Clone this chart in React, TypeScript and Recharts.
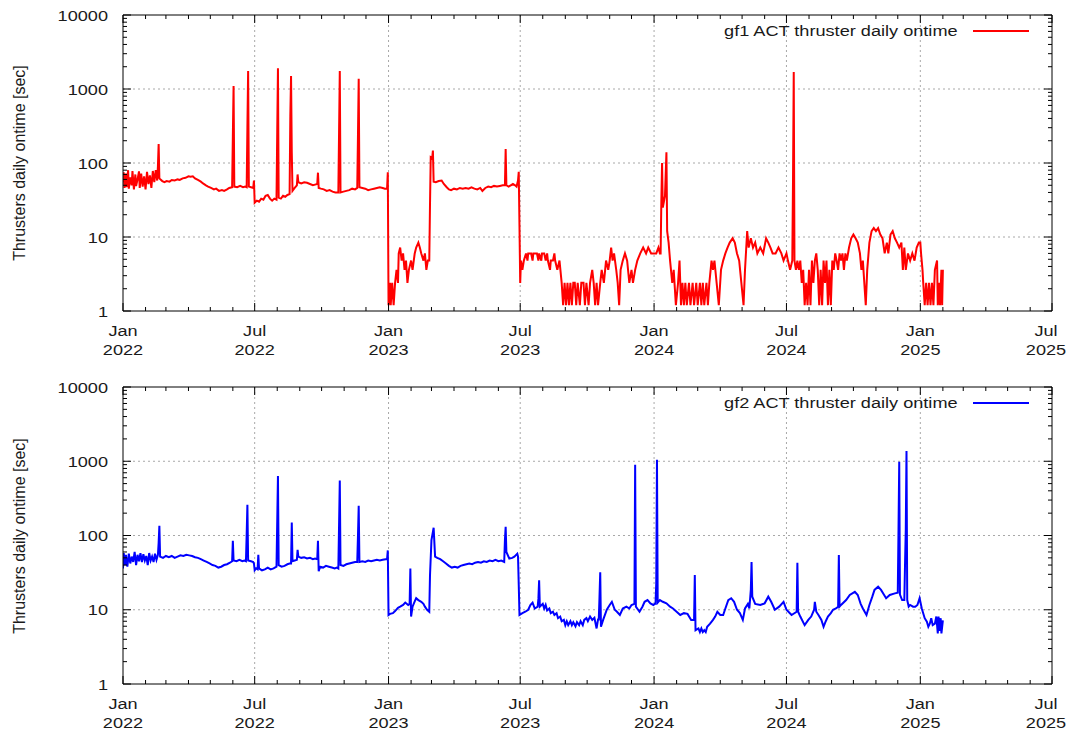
import React from 'react';
import { LineChart, Line, XAxis, YAxis, CartesianGrid } from 'recharts';

const FONT = '"Liberation Sans", Arial, sans-serif';
const STRETCH = 1.17;
const TEXT = '#1a1a1a';

const xStart = '2022-01-01';
const xEnd = '2025-07-01';
const majorMonths = ['Jan', 'Jul'];
const yDecades = [1, 10, 100, 1000, 10000];
const yLabel = 'Thrusters daily ontime [sec]';
const gf1Label = 'gf1 ACT thruster daily ontime';
const gf2Label = 'gf2 ACT thruster daily ontime';

// daily ontime [sec]
const gf1Ontime: [string, number][] = [
  ['2022-01-01', 55], ['2022-01-02', 75], ['2022-01-03', 46], ['2022-01-05', 72], ['2022-01-06', 47],
  ['2022-01-08', 80], ['2022-01-09', 45], ['2022-01-11', 64], ['2022-01-13', 50], ['2022-01-14', 78],
  ['2022-01-16', 44], ['2022-01-18', 70], ['2022-01-19', 49], ['2022-01-21', 60], ['2022-01-23', 77],
  ['2022-01-24', 46], ['2022-01-26', 72], ['2022-01-28', 48], ['2022-01-30', 66], ['2022-02-01', 44],
  ['2022-02-03', 76], ['2022-02-05', 52], ['2022-02-07', 68], ['2022-02-09', 46], ['2022-02-11', 78],
  ['2022-02-13', 55], ['2022-02-15', 80], ['2022-02-17', 58], ['2022-02-18', 90], ['2022-02-19', 180],
  ['2022-02-20', 62], ['2022-02-24', 57], ['2022-02-27', 55], ['2022-03-02', 57], ['2022-03-06', 56],
  ['2022-03-09', 59], ['2022-03-13', 58], ['2022-03-17', 60], ['2022-03-20', 59], ['2022-03-24', 62],
  ['2022-03-28', 63], ['2022-04-01', 66], ['2022-04-04', 65], ['2022-04-07', 66], ['2022-04-10', 62],
  ['2022-04-14', 59], ['2022-04-18', 56], ['2022-04-21', 53], ['2022-04-25', 50], ['2022-04-28', 48],
  ['2022-05-02', 46], ['2022-05-06', 44], ['2022-05-09', 45], ['2022-05-13', 42], ['2022-05-17', 43],
  ['2022-05-20', 42], ['2022-05-24', 44], ['2022-05-27', 46], ['2022-05-31', 47], ['2022-06-01', 230],
  ['2022-06-02', 1100], ['2022-06-03', 48], ['2022-06-07', 47], ['2022-06-11', 49], ['2022-06-15', 47],
  ['2022-06-18', 48], ['2022-06-20', 47], ['2022-06-21', 300], ['2022-06-22', 1750], ['2022-06-23', 48],
  ['2022-06-26', 47], ['2022-06-29', 46], ['2022-06-30', 58], ['2022-07-01', 29], ['2022-07-04', 31],
  ['2022-07-07', 30], ['2022-07-10', 33], ['2022-07-13', 32], ['2022-07-16', 36], ['2022-07-19', 37],
  ['2022-07-22', 33], ['2022-07-25', 31], ['2022-07-28', 33], ['2022-07-31', 32], ['2022-08-01', 260],
  ['2022-08-02', 1900], ['2022-08-03', 34], ['2022-08-06', 33], ['2022-08-09', 36], ['2022-08-12', 35],
  ['2022-08-15', 37], ['2022-08-18', 38], ['2022-08-19', 430], ['2022-08-20', 1500], ['2022-08-21', 140],
  ['2022-08-22', 42], ['2022-08-25', 46], ['2022-08-28', 50], ['2022-08-29', 70], ['2022-08-30', 55],
  ['2022-09-03', 53], ['2022-09-07', 55], ['2022-09-11', 54], ['2022-09-15', 52], ['2022-09-19', 50],
  ['2022-09-22', 51], ['2022-09-25', 52], ['2022-09-26', 74], ['2022-09-27', 46], ['2022-09-30', 45],
  ['2022-10-04', 44], ['2022-10-08', 42], ['2022-10-12', 43], ['2022-10-16', 41], ['2022-10-20', 40],
  ['2022-10-24', 40], ['2022-10-25', 260], ['2022-10-26', 1750], ['2022-10-27', 40], ['2022-10-31', 41],
  ['2022-11-04', 42], ['2022-11-08', 43], ['2022-11-12', 45], ['2022-11-16', 44], ['2022-11-19', 46],
  ['2022-11-20', 240], ['2022-11-21', 1380], ['2022-11-22', 47], ['2022-11-26', 46], ['2022-11-30', 45],
  ['2022-12-04', 43], ['2022-12-08', 44], ['2022-12-12', 45], ['2022-12-16', 46], ['2022-12-20', 47],
  ['2022-12-24', 46], ['2022-12-27', 45], ['2022-12-30', 45], ['2022-12-31', 75], ['2023-01-01', 1.2],
  ['2023-01-03', 2.4], ['2023-01-04', 1.2], ['2023-01-06', 2.4], ['2023-01-08', 1.2], ['2023-01-10', 2.4],
  ['2023-01-12', 3.6], ['2023-01-14', 2.4], ['2023-01-15', 6], ['2023-01-17', 7.2], ['2023-01-19', 4.8],
  ['2023-01-21', 6], ['2023-01-23', 3.6], ['2023-01-25', 4.8], ['2023-01-27', 2.4], ['2023-01-29', 3.6],
  ['2023-02-01', 4.8], ['2023-02-03', 3.6], ['2023-02-06', 6], ['2023-02-08', 7.2], ['2023-02-11', 8.4],
  ['2023-02-13', 7.2], ['2023-02-15', 6], ['2023-02-18', 4.8], ['2023-02-20', 6], ['2023-02-22', 3.6],
  ['2023-02-24', 4.8], ['2023-02-26', 4.8], ['2023-02-27', 27], ['2023-02-28', 120], ['2023-03-02', 116],
  ['2023-03-03', 147], ['2023-03-04', 56], ['2023-03-07', 55], ['2023-03-11', 57], ['2023-03-15', 58],
  ['2023-03-18', 52], ['2023-03-22', 47], ['2023-03-25', 44], ['2023-03-28', 43], ['2023-04-01', 45],
  ['2023-04-05', 44], ['2023-04-09', 46], ['2023-04-13', 45], ['2023-04-17', 46], ['2023-04-21', 45],
  ['2023-04-25', 47], ['2023-04-29', 45], ['2023-05-03', 44], ['2023-05-07', 46], ['2023-05-10', 42],
  ['2023-05-14', 46], ['2023-05-18', 48], ['2023-05-22', 47], ['2023-05-26', 49], ['2023-05-30', 48],
  ['2023-06-03', 49], ['2023-06-07', 50], ['2023-06-10', 50], ['2023-06-11', 155], ['2023-06-12', 50],
  ['2023-06-15', 48], ['2023-06-18', 50], ['2023-06-21', 52], ['2023-06-24', 50], ['2023-06-26', 48],
  ['2023-06-28', 58], ['2023-06-29', 76], ['2023-06-30', 14], ['2023-07-01', 2.4], ['2023-07-02', 4.8],
  ['2023-07-04', 3.6], ['2023-07-06', 4.8], ['2023-07-09', 6], ['2023-07-11', 4.8], ['2023-07-12', 6],
  ['2023-07-16', 6], ['2023-07-18', 4.8], ['2023-07-19', 6], ['2023-07-24', 6], ['2023-07-26', 4.8],
  ['2023-07-27', 6], ['2023-07-30', 4.8], ['2023-07-31', 6], ['2023-08-03', 6], ['2023-08-05', 4.8],
  ['2023-08-07', 6], ['2023-08-08', 4.8], ['2023-08-11', 3.6], ['2023-08-12', 4.8], ['2023-08-15', 4.8],
  ['2023-08-17', 6], ['2023-08-18', 4.8], ['2023-08-21', 3.6], ['2023-08-24', 4.8], ['2023-08-27', 2.4],
  ['2023-08-29', 1.2], ['2023-08-31', 2.4], ['2023-09-02', 1.2], ['2023-09-04', 2.4], ['2023-09-06', 1.2],
  ['2023-09-08', 2.4], ['2023-09-10', 1.2], ['2023-09-12', 2.4], ['2023-09-14', 2.4], ['2023-09-16', 1.2],
  ['2023-09-18', 2.4], ['2023-09-21', 1.2], ['2023-09-23', 2.4], ['2023-09-26', 2.4], ['2023-09-28', 1.2],
  ['2023-09-30', 2.4], ['2023-10-03', 1.2], ['2023-10-05', 2.4], ['2023-10-08', 3.6], ['2023-10-10', 2.4],
  ['2023-10-12', 1.2], ['2023-10-14', 2.4], ['2023-10-16', 1.2], ['2023-10-19', 2.4], ['2023-10-21', 3.6],
  ['2023-10-24', 2.4], ['2023-10-27', 4.8], ['2023-10-30', 3.6], ['2023-11-01', 4.8], ['2023-11-03', 7.2],
  ['2023-11-05', 4.8], ['2023-11-07', 6], ['2023-11-10', 3.6], ['2023-11-12', 2.4], ['2023-11-14', 1.2],
  ['2023-11-16', 3.6], ['2023-11-19', 4.8], ['2023-11-22', 6], ['2023-11-25', 4.8], ['2023-11-28', 2.4],
  ['2023-12-01', 3.6], ['2023-12-03', 2.4], ['2023-12-06', 3.6], ['2023-12-09', 4.8], ['2023-12-13', 6],
  ['2023-12-17', 7.2], ['2023-12-21', 6], ['2023-12-24', 7.2], ['2023-12-28', 6], ['2024-01-01', 6],
  ['2024-01-04', 6], ['2024-01-07', 7.2], ['2024-01-09', 6], ['2024-01-10', 6], ['2024-01-11', 30],
  ['2024-01-12', 100], ['2024-01-13', 25], ['2024-01-16', 36], ['2024-01-18', 140], ['2024-01-19', 12],
  ['2024-01-21', 8.4], ['2024-01-23', 4.8], ['2024-01-26', 2.4], ['2024-01-28', 3.6], ['2024-01-31', 1.2],
  ['2024-02-03', 2.4], ['2024-02-05', 4.8], ['2024-02-07', 1.2], ['2024-02-09', 2.4], ['2024-02-11', 1.2],
  ['2024-02-13', 2.4], ['2024-02-15', 1.2], ['2024-02-18', 2.4], ['2024-02-20', 1.2], ['2024-02-23', 2.4],
  ['2024-02-25', 1.2], ['2024-02-28', 2.4], ['2024-03-01', 1.2], ['2024-03-04', 2.4], ['2024-03-06', 1.2],
  ['2024-03-08', 2.4], ['2024-03-10', 1.2], ['2024-03-13', 2.4], ['2024-03-15', 1.2], ['2024-03-17', 2.4],
  ['2024-03-20', 4.8], ['2024-03-22', 3.6], ['2024-03-24', 4.8], ['2024-03-27', 2.4], ['2024-03-30', 1.2],
  ['2024-04-02', 3.6], ['2024-04-05', 4.8], ['2024-04-08', 6], ['2024-04-11', 7.2], ['2024-04-14', 8.4],
  ['2024-04-18', 9.6], ['2024-04-21', 8.4], ['2024-04-24', 6], ['2024-04-27', 4.8], ['2024-04-30', 2.4],
  ['2024-05-03', 1.2], ['2024-05-05', 3.6], ['2024-05-08', 12], ['2024-05-10', 7.2], ['2024-05-13', 9.6],
  ['2024-05-16', 7.2], ['2024-05-19', 8.4], ['2024-05-22', 6], ['2024-05-26', 7.2], ['2024-05-30', 6],
  ['2024-06-03', 9.6], ['2024-06-06', 8.4], ['2024-06-09', 7.2], ['2024-06-12', 6], ['2024-06-16', 6],
  ['2024-06-20', 7.2], ['2024-06-24', 6], ['2024-06-27', 4.8], ['2024-07-01', 6], ['2024-07-03', 4.8],
  ['2024-07-06', 3.6], ['2024-07-09', 4.8], ['2024-07-10', 60], ['2024-07-11', 1700], ['2024-07-12', 4.8],
  ['2024-07-14', 3.6], ['2024-07-16', 4.8], ['2024-07-18', 3.6], ['2024-07-20', 4.8], ['2024-07-22', 2.4],
  ['2024-07-24', 3.6], ['2024-07-26', 1.2], ['2024-07-28', 2.4], ['2024-07-30', 1.2], ['2024-08-01', 3.6],
  ['2024-08-03', 1.2], ['2024-08-05', 4.8], ['2024-08-07', 2.4], ['2024-08-09', 4.8], ['2024-08-11', 6],
  ['2024-08-13', 3.6], ['2024-08-15', 1.2], ['2024-08-17', 3.6], ['2024-08-19', 1.2], ['2024-08-21', 4.8],
  ['2024-08-23', 2.4], ['2024-08-25', 4.8], ['2024-08-27', 1.2], ['2024-08-29', 3.6], ['2024-08-31', 1.2],
  ['2024-09-02', 4.8], ['2024-09-04', 3.6], ['2024-09-06', 6], ['2024-09-08', 4.8], ['2024-09-10', 3.6],
  ['2024-09-12', 6], ['2024-09-14', 4.8], ['2024-09-16', 6], ['2024-09-18', 3.6], ['2024-09-20', 6],
  ['2024-09-22', 4.8], ['2024-09-25', 7.2], ['2024-09-28', 9.6], ['2024-10-01', 10.8], ['2024-10-04', 9.6],
  ['2024-10-07', 8.4], ['2024-10-10', 6], ['2024-10-12', 3.6], ['2024-10-14', 4.8], ['2024-10-16', 2.4],
  ['2024-10-18', 1.2], ['2024-10-20', 3.6], ['2024-10-23', 8.4], ['2024-10-26', 12], ['2024-10-29', 13.2],
  ['2024-11-01', 12], ['2024-11-04', 13.2], ['2024-11-07', 10.8], ['2024-11-10', 9.6], ['2024-11-13', 6],
  ['2024-11-16', 8.4], ['2024-11-18', 6], ['2024-11-21', 10.8], ['2024-11-24', 12], ['2024-11-27', 9.6],
  ['2024-11-30', 8.4], ['2024-12-03', 7.2], ['2024-12-06', 8.4], ['2024-12-08', 3.6], ['2024-12-10', 7.2],
  ['2024-12-12', 3.6], ['2024-12-15', 6], ['2024-12-18', 4.8], ['2024-12-21', 6], ['2024-12-24', 4.8],
  ['2024-12-27', 7.2], ['2024-12-30', 8.4], ['2025-01-01', 8.4], ['2025-01-02', 6], ['2025-01-04', 3.6],
  ['2025-01-05', 2.4], ['2025-01-07', 1.2], ['2025-01-09', 2.4], ['2025-01-11', 1.2], ['2025-01-13', 2.4],
  ['2025-01-15', 1.2], ['2025-01-17', 2.4], ['2025-01-19', 1.2], ['2025-01-21', 3.6], ['2025-01-24', 4.8],
  ['2025-01-25', 1.2], ['2025-01-27', 2.4], ['2025-01-28', 1.2], ['2025-01-30', 3.6], ['2025-01-31', 1.2],
  ['2025-02-01', 3.6],
];

const gf2Ontime: [string, number][] = [
  ['2022-01-01', 36], ['2022-01-02', 58], ['2022-01-04', 40], ['2022-01-05', 55], ['2022-01-07', 38],
  ['2022-01-09', 57], ['2022-01-11', 42], ['2022-01-13', 52], ['2022-01-15', 44], ['2022-01-17', 60],
  ['2022-01-19', 40], ['2022-01-21', 55], ['2022-01-23', 45], ['2022-01-25', 58], ['2022-01-27', 44],
  ['2022-01-29', 56], ['2022-01-31', 46], ['2022-02-02', 53], ['2022-02-04', 40], ['2022-02-06', 58],
  ['2022-02-08', 46], ['2022-02-10', 52], ['2022-02-12', 44], ['2022-02-14', 57], ['2022-02-16', 47],
  ['2022-02-18', 55], ['2022-02-19', 80], ['2022-02-20', 135], ['2022-02-21', 52], ['2022-02-25', 50],
  ['2022-03-01', 53], ['2022-03-05', 51], ['2022-03-09', 53], ['2022-03-13', 50], ['2022-03-17', 52],
  ['2022-03-21', 54], ['2022-03-25', 53], ['2022-03-29', 55], ['2022-04-02', 54], ['2022-04-06', 53],
  ['2022-04-10', 51], ['2022-04-14', 50], ['2022-04-18', 48], ['2022-04-22', 46], ['2022-04-26', 44],
  ['2022-04-30', 42], ['2022-05-04', 40], ['2022-05-08', 39], ['2022-05-12', 37], ['2022-05-16', 38],
  ['2022-05-20', 40], ['2022-05-24', 41], ['2022-05-28', 43], ['2022-05-31', 45], ['2022-06-01', 85],
  ['2022-06-02', 46], ['2022-06-06', 45], ['2022-06-10', 47], ['2022-06-14', 45], ['2022-06-17', 46],
  ['2022-06-19', 45], ['2022-06-20', 104], ['2022-06-21', 260], ['2022-06-22', 46], ['2022-06-26', 45],
  ['2022-06-29', 44], ['2022-06-30', 42], ['2022-07-01', 34], ['2022-07-03', 36], ['2022-07-05', 35],
  ['2022-07-06', 55], ['2022-07-07', 36], ['2022-07-11', 34], ['2022-07-15', 35], ['2022-07-19', 37],
  ['2022-07-23', 35], ['2022-07-27', 36], ['2022-07-31', 38], ['2022-08-01', 153], ['2022-08-02', 635],
  ['2022-08-03', 40], ['2022-08-07', 38], ['2022-08-11', 39], ['2022-08-15', 41], ['2022-08-18', 42],
  ['2022-08-20', 42], ['2022-08-21', 149], ['2022-08-22', 45], ['2022-08-25', 46], ['2022-08-28', 47],
  ['2022-08-29', 64], ['2022-08-30', 52], ['2022-09-03', 50], ['2022-09-07', 51], ['2022-09-11', 49],
  ['2022-09-15', 50], ['2022-09-19', 48], ['2022-09-22', 49], ['2022-09-25', 48], ['2022-09-26', 85],
  ['2022-09-27', 33], ['2022-09-29', 38], ['2022-10-03', 37], ['2022-10-07', 39], ['2022-10-11', 38],
  ['2022-10-15', 37], ['2022-10-19', 36], ['2022-10-22', 37], ['2022-10-24', 36], ['2022-10-25', 138],
  ['2022-10-26', 550], ['2022-10-27', 40], ['2022-10-31', 39], ['2022-11-04', 41], ['2022-11-08', 42],
  ['2022-11-12', 43], ['2022-11-16', 44], ['2022-11-19', 44], ['2022-11-20', 100], ['2022-11-21', 252],
  ['2022-11-22', 44], ['2022-11-26', 45], ['2022-11-30', 44], ['2022-12-04', 46], ['2022-12-08', 45],
  ['2022-12-12', 46], ['2022-12-16', 47], ['2022-12-20', 46], ['2022-12-24', 47], ['2022-12-28', 48],
  ['2022-12-30', 48], ['2022-12-31', 63], ['2023-01-01', 8.5], ['2023-01-03', 8.8], ['2023-01-07', 9],
  ['2023-01-10', 9.6], ['2023-01-14', 10.6], ['2023-01-17', 11], ['2023-01-21', 11.6], ['2023-01-24', 12.5],
  ['2023-01-28', 11.6], ['2023-01-30', 12], ['2023-01-31', 36], ['2023-02-01', 8.1], ['2023-02-03', 11],
  ['2023-02-06', 13], ['2023-02-08', 14.3], ['2023-02-11', 13.5], ['2023-02-15', 12.8], ['2023-02-18', 12],
  ['2023-02-20', 11], ['2023-02-23', 10], ['2023-02-26', 9.4], ['2023-02-27', 29], ['2023-03-01', 87],
  ['2023-03-04', 127], ['2023-03-06', 52], ['2023-03-09', 50], ['2023-03-13', 48], ['2023-03-17', 45],
  ['2023-03-21', 42], ['2023-03-25', 39], ['2023-03-29', 37], ['2023-04-02', 38], ['2023-04-06', 37],
  ['2023-04-10', 39], ['2023-04-14', 40], ['2023-04-18', 41], ['2023-04-22', 42], ['2023-04-26', 41],
  ['2023-04-30', 43], ['2023-05-04', 44], ['2023-05-08', 43], ['2023-05-12', 45], ['2023-05-16', 44],
  ['2023-05-20', 46], ['2023-05-24', 45], ['2023-05-28', 47], ['2023-06-01', 45], ['2023-06-05', 46],
  ['2023-06-09', 44], ['2023-06-10', 87], ['2023-06-11', 131], ['2023-06-12', 60], ['2023-06-16', 49],
  ['2023-06-20', 50], ['2023-06-23', 52], ['2023-06-27', 57], ['2023-06-28', 52], ['2023-06-29', 21.6],
  ['2023-06-30', 8.5], ['2023-07-04', 9], ['2023-07-08', 9.4], ['2023-07-12', 10], ['2023-07-15', 11.6],
  ['2023-07-18', 12.5], ['2023-07-21', 10.4], ['2023-07-25', 11], ['2023-07-26', 14], ['2023-07-27', 25],
  ['2023-07-28', 11], ['2023-08-01', 12], ['2023-08-03', 10.4], ['2023-08-05', 11.6], ['2023-08-07', 9.8],
  ['2023-08-10', 10.4], ['2023-08-12', 9], ['2023-08-15', 9.4], ['2023-08-17', 8.5], ['2023-08-20', 9],
  ['2023-08-22', 7.7], ['2023-08-25', 8.1], ['2023-08-27', 7], ['2023-08-30', 7.3], ['2023-09-01', 6.2],
  ['2023-09-03', 7], ['2023-09-05', 6.2], ['2023-09-08', 7], ['2023-09-10', 6.2], ['2023-09-12', 6.8],
  ['2023-09-15', 6], ['2023-09-17', 6.8], ['2023-09-20', 6.2], ['2023-09-22', 7], ['2023-09-25', 6.2],
  ['2023-09-27', 7.3], ['2023-09-30', 7.7], ['2023-10-02', 7], ['2023-10-05', 8.1], ['2023-10-08', 7.3],
  ['2023-10-11', 7.8], ['2023-10-14', 5.6], ['2023-10-16', 7.4], ['2023-10-17', 7.4], ['2023-10-18', 15],
  ['2023-10-19', 32], ['2023-10-20', 5.9], ['2023-10-23', 7.3], ['2023-10-28', 10], ['2023-11-01', 11.6],
  ['2023-11-04', 12.8], ['2023-11-08', 10], ['2023-11-11', 9.4], ['2023-11-15', 8.5], ['2023-11-19', 10.4],
  ['2023-11-24', 11], ['2023-11-28', 10.4], ['2023-12-01', 11.6], ['2023-12-05', 12], ['2023-12-06', 900],
  ['2023-12-07', 11], ['2023-12-12', 9.4], ['2023-12-16', 11], ['2023-12-19', 12.8], ['2023-12-23', 13.5],
  ['2023-12-27', 12.2], ['2023-12-31', 11.6], ['2024-01-02', 12], ['2024-01-03', 12], ['2024-01-04', 22.7],
  ['2024-01-05', 1050], ['2024-01-06', 12.5], ['2024-01-09', 13.5], ['2024-01-13', 12.8], ['2024-01-18', 12.2],
  ['2024-01-23', 11], ['2024-01-27', 10.4], ['2024-02-01', 9.4], ['2024-02-06', 8.5], ['2024-02-11', 9],
  ['2024-02-16', 8.8], ['2024-02-21', 7.3], ['2024-02-25', 7.3], ['2024-02-26', 29.4], ['2024-02-27', 5.3],
  ['2024-03-02', 5.6], ['2024-03-04', 5], ['2024-03-06', 5.6], ['2024-03-08', 5], ['2024-03-10', 5.3],
  ['2024-03-12', 5], ['2024-03-14', 5.9], ['2024-03-18', 6.5], ['2024-03-22', 7.3], ['2024-03-25', 8.1],
  ['2024-03-28', 9.4], ['2024-04-01', 8.5], ['2024-04-05', 8.5], ['2024-04-08', 10.4], ['2024-04-12', 13.5],
  ['2024-04-16', 14.3], ['2024-04-20', 12.8], ['2024-04-24', 10], ['2024-04-28', 9], ['2024-05-02', 7.3],
  ['2024-05-05', 10.4], ['2024-05-09', 12], ['2024-05-11', 10.4], ['2024-05-13', 18.5], ['2024-05-14', 44],
  ['2024-05-15', 15], ['2024-05-19', 12], ['2024-05-26', 11.6], ['2024-06-01', 12.2], ['2024-06-06', 15],
  ['2024-06-10', 12.8], ['2024-06-15', 10], ['2024-06-21', 11], ['2024-06-27', 12.8], ['2024-07-01', 10],
  ['2024-07-08', 8.5], ['2024-07-15', 9.4], ['2024-07-16', 43], ['2024-07-17', 9.4], ['2024-07-20', 8.1],
  ['2024-07-26', 6.2], ['2024-07-31', 7.3], ['2024-08-04', 8.1], ['2024-08-08', 10], ['2024-08-09', 12.8],
  ['2024-08-11', 9.4], ['2024-08-14', 8.5], ['2024-08-18', 7.3], ['2024-08-21', 5.9], ['2024-08-24', 7],
  ['2024-08-27', 8.1], ['2024-08-31', 9], ['2024-09-03', 10], ['2024-09-07', 10.4], ['2024-09-10', 11],
  ['2024-09-11', 54.6], ['2024-09-12', 11], ['2024-09-14', 11.6], ['2024-09-21', 13.5], ['2024-09-26', 15.8],
  ['2024-10-03', 17.4], ['2024-10-07', 15.8], ['2024-10-11', 12], ['2024-10-14', 10.4], ['2024-10-19', 8.5],
  ['2024-10-23', 11.6], ['2024-10-27', 15], ['2024-10-30', 18.5], ['2024-11-04', 20.4], ['2024-11-08', 18.5],
  ['2024-11-11', 16.6], ['2024-11-15', 14.3], ['2024-11-20', 15.8], ['2024-11-27', 16.6], ['2024-12-01', 17],
  ['2024-12-02', 118], ['2024-12-03', 985], ['2024-12-04', 16], ['2024-12-07', 13.5], ['2024-12-10', 13.5],
  ['2024-12-11', 42], ['2024-12-12', 120], ['2024-12-13', 1370], ['2024-12-14', 13.5], ['2024-12-16', 11],
  ['2024-12-18', 11.6], ['2024-12-22', 11], ['2024-12-25', 11], ['2024-12-28', 11.6], ['2024-12-31', 14.3],
  ['2025-01-03', 10.4], ['2025-01-07', 7.7], ['2025-01-10', 6.9], ['2025-01-12', 5.9], ['2025-01-14', 6.5],
  ['2025-01-16', 7.7], ['2025-01-18', 6.2], ['2025-01-21', 6.5], ['2025-01-23', 8.1], ['2025-01-25', 4.8],
  ['2025-01-26', 8.1], ['2025-01-28', 5.2], ['2025-01-29', 7.7], ['2025-01-30', 4.8], ['2025-02-01', 7.2],
];

const toMs = (d: string) => Date.parse(d + 'T00:00:00Z');
const xDomain = [toMs(xStart), toMs(xEnd)];

// monthly tick marks, labelled every half year
const monthTicks: number[] = [];
for (let yr = 2022; yr <= 2025; yr++) {
  for (let m = 0; m < 12; m++) {
    const t = Date.UTC(yr, m, 1);
    if (t <= xDomain[1]) monthTicks.push(t);
  }
}
const isMajorMonth = (t: number) => new Date(t).getUTCMonth() % 6 === 0;
const gridX = monthTicks.filter(isMajorMonth).filter((t) => t > xDomain[0] && t < xDomain[1]);

// log ticks: decades + 2..9 minors
const yTicks: number[] = [];
yDecades.slice(0, -1).forEach((d) => {
  for (let k = 1; k <= 9; k++) yTicks.push(k * d);
});
yTicks.push(10000);

const tickText = { fontSize: 15.5, fontFamily: FONT, fill: TEXT };

const LeftTick = (props: any) => {
  const { x, y, payload } = props;
  const major = yDecades.includes(payload.value);
  return (
    <g>
      <line x1={x} x2={x + (major ? 8 : 4)} y1={y} y2={y} stroke="#000" />
      {major && (
        <text transform={`translate(${x - 15},${y}) scale(${STRETCH},1)`} textAnchor="end" dy="0.36em" {...tickText}>
          {payload.value}
        </text>
      )}
    </g>
  );
};

const RightTick = (props: any) => {
  const { x, y, payload } = props;
  const major = yDecades.includes(payload.value);
  return <line x1={x} x2={x - (major ? 8 : 4)} y1={y} y2={y} stroke="#000" />;
};

const TopTick = (props: any) => {
  const { x, y, payload } = props;
  const major = isMajorMonth(payload.value);
  return <line x1={x} x2={x} y1={y} y2={y + (major ? 8 : 4)} stroke="#000" />;
};

const BottomTick = (props: any) => {
  const { x, y, payload } = props;
  const d = new Date(payload.value);
  const major = isMajorMonth(payload.value);
  // keep the last label inside the page
  const tx = payload.value === xDomain[1] ? x - 6 : x;
  return (
    <g>
      <line x1={x} x2={x} y1={y} y2={y - (major ? 8 : 4)} stroke="#000" />
      {major && (
        <text transform={`translate(${tx},${y}) scale(${STRETCH},1)`} textAnchor="middle" {...tickText}>
          <tspan x={0} y={25}>{majorMonths[d.getUTCMonth() / 6]}</tspan>
          <tspan x={0} y={44}>{d.getUTCFullYear()}</tspan>
        </text>
      )}
    </g>
  );
};

interface PanelProps {
  series: [string, number][];
  color: string;
  legend: string;
  top: number;
  height: number;
  axisHeight: number;
  bottomMargin: number;
}

function Panel({ series, color, legend, top, height, axisHeight, bottomMargin }: PanelProps) {
  const data = series.map(([d, v]) => ({ t: toMs(d), v }));
  const plotMid = (15 + height - bottomMargin - axisHeight) / 2;
  return (
    <div style={{ position: 'absolute', left: 0, top, width: 1068, height }}>
      <LineChart width={1068} height={height} data={data} margin={{ top: 14, right: 15, bottom: bottomMargin, left: 53 }}>
        <CartesianGrid stroke="#a8a8a8" strokeDasharray="2 3" horizontalValues={[10, 100, 1000]} verticalValues={gridX} />
        <XAxis
          dataKey="t"
          type="number"
          domain={xDomain}
          allowDataOverflow
          ticks={monthTicks}
          interval={0}
          height={axisHeight}
          tickSize={0}
          tickMargin={0}
          tickLine={false}
          axisLine={{ stroke: '#000' }}
          tick={(p: any) => <BottomTick {...p} />}
        />
        <XAxis
          xAxisId="top"
          orientation="top"
          dataKey="t"
          type="number"
          domain={xDomain}
          allowDataOverflow
          ticks={monthTicks}
          interval={0}
          height={1}
          tickSize={0}
          tickMargin={0}
          tickLine={false}
          axisLine={{ stroke: '#000' }}
          tick={(p: any) => <TopTick {...p} />}
        />
        <YAxis
          scale="log"
          domain={[1, 10000]}
          allowDataOverflow
          ticks={yTicks}
          interval={0}
          width={70}
          tickSize={0}
          tickMargin={0}
          tickLine={false}
          axisLine={{ stroke: '#000' }}
          tick={(p: any) => <LeftTick {...p} />}
        />
        <YAxis
          yAxisId="right"
          orientation="right"
          scale="log"
          domain={[1, 10000]}
          allowDataOverflow
          ticks={yTicks}
          interval={0}
          width={1}
          tickSize={0}
          tickMargin={0}
          tickLine={false}
          axisLine={{ stroke: '#000' }}
          tick={(p: any) => <RightTick {...p} />}
        />
        <Line type="linear" dataKey="v" stroke={color} strokeWidth={2} dot={false} activeDot={false} isAnimationActive={false} />
      </LineChart>
      <div
        style={{
          position: 'absolute', left: -130, top: plotMid - 10, width: 300, height: 20, lineHeight: '20px',
          transform: 'rotate(-90deg)', textAlign: 'center', fontFamily: FONT, fontSize: 16, color: TEXT, whiteSpace: 'nowrap',
        }}
      >
        {yLabel}
      </div>
      <div style={{ position: 'absolute', top: 21, right: 39, height: 20, display: 'flex', alignItems: 'center' }}>
        <span style={{ fontFamily: FONT, fontSize: 15.5, color: TEXT, whiteSpace: 'nowrap', transform: `scaleX(${STRETCH})`, transformOrigin: 'right center' }}>
          {legend}
        </span>
        <span style={{ display: 'inline-block', width: 56, height: 2, marginLeft: 15, background: color }} />
      </div>
    </div>
  );
}

export default function App() {
  return (
    <div style={{ position: 'absolute', left: 0, top: 0, width: 1068, height: 732, background: '#fff' }}>
      <Panel series={gf1Ontime} color="#ff0000" legend={gf1Label} top={0} height={366} axisHeight={46} bottomMargin={9} />
      <Panel series={gf2Ontime} color="#0000ff" legend={gf2Label} top={372} height={360} axisHeight={40} bottomMargin={8} />
    </div>
  );
}
